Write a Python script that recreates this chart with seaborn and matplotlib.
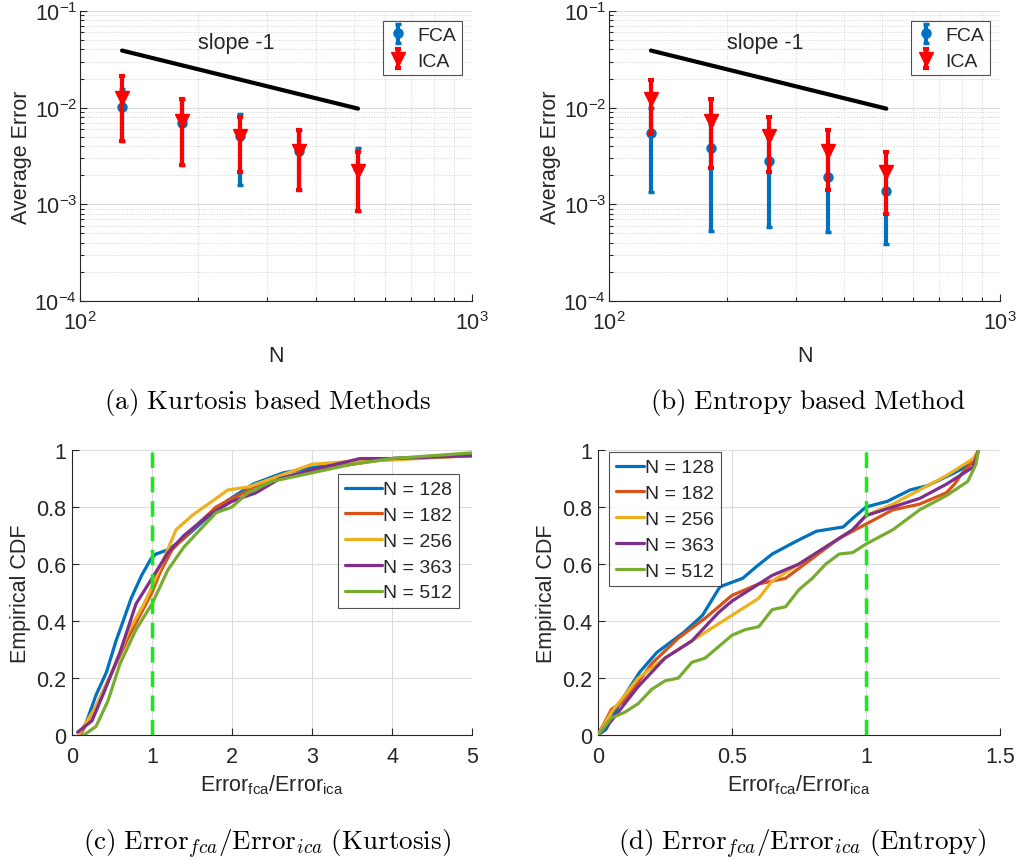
import numpy as np
import pandas as pd
import matplotlib
matplotlib.use("Agg")
import matplotlib.pyplot as plt
import seaborn as sns
from matplotlib.ticker import FixedLocator, FuncFormatter, NullFormatter, LogLocator

# ---------------- data ----------------
N_vals = [128, 182, 256, 363, 512]

# (a) Kurtosis
kurt_fca_mean = [0.0101, 0.0070, 0.0051, 0.00356, 0.00239]
kurt_fca_low = [0.00452, 0.00253, 0.00158, 0.00142, 0.00085]
kurt_fca_high = [0.0157, 0.0122, 0.00853, 0.00583, 0.00386]
kurt_ica_mean = [0.0127, 0.0073, 0.0051, 0.0036, 0.0022]
kurt_ica_low = [0.00452, 0.00253, 0.00216, 0.00141, 0.00085]
kurt_ica_high = [0.0213, 0.0124, 0.0080, 0.00583, 0.0035]

# (b) Entropy
ent_fca_mean = [0.0055, 0.00386, 0.0028, 0.00192, 0.00137]
ent_fca_low = [0.00135, 0.00053, 0.00058, 0.00052, 0.00039]
ent_fca_high = [0.0100, 0.0068, 0.0049, 0.0034, 0.0024]
ent_ica_mean = [0.0124, 0.0073, 0.0051, 0.00356, 0.00216]
ent_ica_low = [0.0053, 0.00236, 0.00218, 0.00141, 0.00079]
ent_ica_high = [0.0193, 0.0122, 0.0080, 0.00583, 0.0035]

slope_N = [128, 512]
slope_err = [0.039, 0.00977]

# (c) CDF kurtosis: (x, y) pairs
cdf_k = {
    "N = 128": ([0.10, 0.16, 0.30, 0.43, 0.55, 0.64, 0.74, 0.87, 0.99, 1.05, 1.20, 1.40, 1.68, 1.93, 2.26, 2.64, 3.05, 3.60, 4.00, 5.00],
                [0.00, 0.03, 0.14, 0.22, 0.33, 0.40, 0.48, 0.56, 0.62, 0.635, 0.65, 0.69, 0.76, 0.82, 0.88, 0.92, 0.94, 0.96, 0.97, 0.98]),
    "N = 182": ([0.10, 0.30, 0.50, 0.70, 0.85, 1.00, 1.10, 1.25, 1.50, 1.80, 2.00, 2.30, 2.60, 3.00, 3.50, 4.00, 5.00],
                [0.00, 0.10, 0.22, 0.34, 0.42, 0.50, 0.57, 0.65, 0.72, 0.80, 0.83, 0.87, 0.90, 0.93, 0.95, 0.97, 0.98]),
    "N = 256": ([0.08, 0.30, 0.50, 0.70, 0.90, 1.00, 1.15, 1.30, 1.50, 1.80, 1.95, 2.20, 2.50, 3.00, 3.50, 4.00, 5.00],
                [0.00, 0.10, 0.22, 0.36, 0.46, 0.52, 0.62, 0.72, 0.77, 0.83, 0.86, 0.87, 0.90, 0.95, 0.96, 0.965, 0.98]),
    "N = 363": ([0.07, 0.25, 0.40, 0.60, 0.80, 1.00, 1.20, 1.40, 1.70, 2.00, 2.30, 2.60, 3.00, 3.60, 4.00, 5.00],
                [0.01, 0.05, 0.15, 0.29, 0.46, 0.55, 0.64, 0.70, 0.77, 0.82, 0.85, 0.90, 0.93, 0.97, 0.97, 0.98]),
    "N = 512": ([0.15, 0.30, 0.45, 0.60, 0.80, 1.00, 1.20, 1.40, 1.60, 1.80, 2.00, 2.20, 2.50, 3.00, 3.50, 4.00, 5.00],
                [0.00, 0.03, 0.12, 0.25, 0.37, 0.46, 0.58, 0.66, 0.72, 0.78, 0.80, 0.85, 0.89, 0.92, 0.95, 0.97, 0.99]),
}

# (d) CDF entropy
cdf_e = {
    "N = 128": ([0.00, 0.03, 0.08, 0.155, 0.22, 0.32, 0.39, 0.455, 0.54, 0.59, 0.65, 0.74, 0.815, 0.915, 0.95, 1.00, 1.08, 1.165, 1.23, 1.33, 1.40, 1.42],
                [0.00, 0.02, 0.11, 0.22, 0.29, 0.36, 0.42, 0.52, 0.55, 0.59, 0.635, 0.68, 0.715, 0.73, 0.76, 0.80, 0.82, 0.86, 0.875, 0.92, 0.955, 1.00]),
    "N = 182": ([0.00, 0.05, 0.10, 0.20, 0.30, 0.40, 0.50, 0.60, 0.70, 0.80, 0.90, 1.00, 1.10, 1.20, 1.30, 1.33, 1.36, 1.40, 1.42],
                [0.00, 0.09, 0.12, 0.25, 0.34, 0.41, 0.49, 0.53, 0.55, 0.62, 0.69, 0.74, 0.79, 0.81, 0.85, 0.88, 0.92, 0.96, 1.00]),
    "N = 256": ([0.00, 0.05, 0.15, 0.25, 0.35, 0.45, 0.55, 0.60, 0.65, 0.75, 0.85, 0.95, 1.00, 1.10, 1.20, 1.30, 1.40, 1.42],
                [0.00, 0.08, 0.20, 0.27, 0.33, 0.39, 0.45, 0.48, 0.54, 0.60, 0.66, 0.72, 0.77, 0.81, 0.86, 0.91, 0.97, 1.00]),
    "N = 363": ([0.00, 0.05, 0.15, 0.25, 0.35, 0.45, 0.50, 0.60, 0.65, 0.75, 0.85, 0.95, 1.00, 1.10, 1.20, 1.30, 1.40, 1.42],
                [0.00, 0.05, 0.17, 0.27, 0.33, 0.43, 0.47, 0.53, 0.56, 0.60, 0.66, 0.72, 0.77, 0.80, 0.83, 0.88, 0.94, 1.00]),
    "N = 512": ([0.00, 0.05, 0.10, 0.15, 0.20, 0.25, 0.30, 0.35, 0.40, 0.45, 0.50, 0.55, 0.60, 0.65, 0.70, 0.75, 0.80, 0.85, 0.90, 0.95, 1.00, 1.10, 1.20, 1.30, 1.38, 1.41, 1.42],
                [0.00, 0.06, 0.08, 0.11, 0.16, 0.19, 0.20, 0.255, 0.27, 0.31, 0.35, 0.37, 0.38, 0.44, 0.45, 0.51, 0.55, 0.60, 0.635, 0.64, 0.67, 0.72, 0.79, 0.84, 0.89, 0.95, 1.00]),
}

captions = [r"$\mathrm{(a)\ Kurtosis\ based\ Methods}$",
            r"$\mathrm{(b)\ Entropy\ based\ Method}$",
            r"$\mathrm{(c)\ Error}_{fca}/\mathrm{Error}_{ica}\ \mathrm{(Kurtosis)}$",
            r"$\mathrm{(d)\ Error}_{fca}/\mathrm{Error}_{ica}\ \mathrm{(Entropy)}$"]

# ---------------- style ----------------
sns.set_theme(style="ticks")
plt.rcParams["font.family"] = ["Liberation Sans", "DejaVu Sans"]
plt.rcParams["mathtext.fontset"] = "custom"
plt.rcParams["mathtext.rm"] = "Liberation Sans"
plt.rcParams["mathtext.sf"] = "Liberation Sans"
plt.rcParams["mathtext.it"] = "Liberation Sans:italic"
plt.rcParams["mathtext.bf"] = "Liberation Sans:bold"

DARK = "#262626"
line_colors = ["#0072BD", "#D95319", "#EDB120", "#7E2F8E", "#77AC30"]
TICK_FS = 15.5
LABEL_FS = 15.5
LEG_FS = 14

fig = plt.figure(figsize=(10.21, 8.62), dpi=100)
W, H = 1021, 862


def ax_at(l, t, r, b):
    return fig.add_axes([l / W, 1 - b / H, (r - l) / W, (b - t) / H])


def style_axes(ax):
    for s in ["top", "right"]:
        ax.spines[s].set_visible(False)
    for s in ["left", "bottom"]:
        ax.spines[s].set_color(DARK)
        ax.spines[s].set_linewidth(0.8)
    ax.tick_params(which="both", direction="in", colors=DARK, labelcolor=DARK,
                   labelsize=TICK_FS, width=0.8)
    ax.tick_params(which="major", length=5)
    ax.tick_params(which="minor", length=3)
    ax.tick_params(axis="x", which="both", pad=7)
    ax.tick_params(axis="y", which="both", pad=4)
    ax.grid(which="major", color="#dcdcdc", linewidth=0.8, linestyle="-")


def pow_fmt(v, pos):
    e = int(round(np.log10(v)))
    return r"$10^{%d}$" % e


def top_panel(ax, fm, fl, fh, im, il, ih):
    fm, fl, fh = map(np.asarray, (fm, fl, fh))
    im, il, ih = map(np.asarray, (im, il, ih))
    ax.set_xscale("log")
    ax.set_yscale("log")
    ax.errorbar(N_vals, fm, yerr=[fm - fl, fh - fm], fmt="o", color="#0072BD",
                ecolor="#0072BD", elinewidth=3, capsize=2.5, capthick=3,
                markersize=5, markerfacecolor="none", markeredgewidth=2.5, label="FCA", zorder=3)
    ax.errorbar(N_vals, im, yerr=[im - il, ih - im], fmt="v", color="#FF0000",
                ecolor="#FF0000", elinewidth=3, capsize=2.5, capthick=3,
                markersize=10, label="ICA", zorder=4)
    sns.lineplot(x=slope_N, y=slope_err, ax=ax, color="black", linewidth=3, zorder=5)
    ax.text(251, 0.047, "slope -1", ha="center", va="center", fontsize=15.5, color=DARK)
    ax.set_xlim(100, 1000)
    ax.set_ylim(1e-4, 1e-1)
    style_axes(ax)
    ax.grid(which="minor", color="#d4d4d4", linewidth=0.7, linestyle=":")
    ax.xaxis.set_major_locator(FixedLocator([100, 1000]))
    ax.xaxis.set_minor_locator(LogLocator(base=10, subs=np.arange(2, 10)))
    ax.yaxis.set_major_locator(FixedLocator([1e-4, 1e-3, 1e-2, 1e-1]))
    ax.yaxis.set_minor_locator(LogLocator(base=10, subs=np.arange(2, 10)))
    ax.xaxis.set_major_formatter(FuncFormatter(pow_fmt))
    ax.yaxis.set_major_formatter(FuncFormatter(pow_fmt))
    ax.xaxis.set_minor_formatter(NullFormatter())
    ax.yaxis.set_minor_formatter(NullFormatter())
    ax.tick_params(axis="y", which="both", pad=2)
    ax.set_xlabel("N", fontsize=LABEL_FS, color=DARK, labelpad=8)
    ax.set_ylabel("Average Error", fontsize=LABEL_FS, color=DARK, labelpad=2)
    leg = ax.legend(loc="upper right", fontsize=LEG_FS, frameon=True, fancybox=False,
                    edgecolor=DARK, borderaxespad=0.5, handlelength=1.0,
                    handletextpad=0.5, labelspacing=0.4, borderpad=0.3)
    leg.get_frame().set_linewidth(0.8)


def cdf_panel(ax, data, xmax, xticks, loc, anchor, hlen):
    for (lab, (xs, ys)), c in zip(data.items(), line_colors):
        sns.lineplot(x=xs, y=ys, ax=ax, color=c, linewidth=2.3, label=lab, zorder=3)
    ax.axvline(1, color="#11EE11", linestyle=(0, (4.5, 2.5)), linewidth=2.5, zorder=4)
    ax.set_xlim(0, xmax)
    ax.set_ylim(0, 1)
    style_axes(ax)
    ax.set_xticks(xticks)
    ax.set_yticks([0, 0.2, 0.4, 0.6, 0.8, 1])
    fmt = FuncFormatter(lambda v, p: "%g" % round(v, 2))
    ax.xaxis.set_major_formatter(fmt)
    ax.yaxis.set_major_formatter(fmt)
    ax.tick_params(axis="x", which="both", pad=8)
    ax.set_xlabel(r"Error$_{\mathrm{fca}}$/Error$_{\mathrm{ica}}$", fontsize=LABEL_FS, color=DARK, labelpad=4)
    ax.set_ylabel("Empirical CDF", fontsize=LABEL_FS, color=DARK, labelpad=4)
    leg = ax.legend(loc=loc, bbox_to_anchor=anchor, fontsize=LEG_FS, frameon=True, fancybox=False,
                    edgecolor=DARK, borderaxespad=0.0, handlelength=hlen,
                    handletextpad=0.05, labelspacing=0.42, borderpad=0.35)
    leg.get_frame().set_linewidth(0.8)


ax1 = ax_at(80, 12, 472, 302)
top_panel(ax1, kurt_fca_mean, kurt_fca_low, kurt_fca_high, kurt_ica_mean, kurt_ica_low, kurt_ica_high)
ax2 = ax_at(609, 12, 1000, 302)
top_panel(ax2, ent_fca_mean, ent_fca_low, ent_fca_high, ent_ica_mean, ent_ica_low, ent_ica_high)
ax3 = ax_at(72, 451, 472, 736)
cdf_panel(ax3, cdf_k, 5, [0, 1, 2, 3, 4, 5], "upper right", (0.9675, 0.916), 1.9)
ax4 = ax_at(598, 451, 1000, 736)
cdf_panel(ax4, cdf_e, 1.5, [0, 0.5, 1, 1.5], "upper left", (0.027, 0.993), 1.45)

cap_pos = [(267, 402), (808, 402), (267, 844), (802, 844)]
for txt, (cx, cy) in zip(captions, cap_pos):
    fig.text(cx / W, 1 - cy / H, txt, ha="center", va="center", fontsize=19.5,
             color="black", math_fontfamily="cm")

fig.savefig("out.png", dpi=100)
